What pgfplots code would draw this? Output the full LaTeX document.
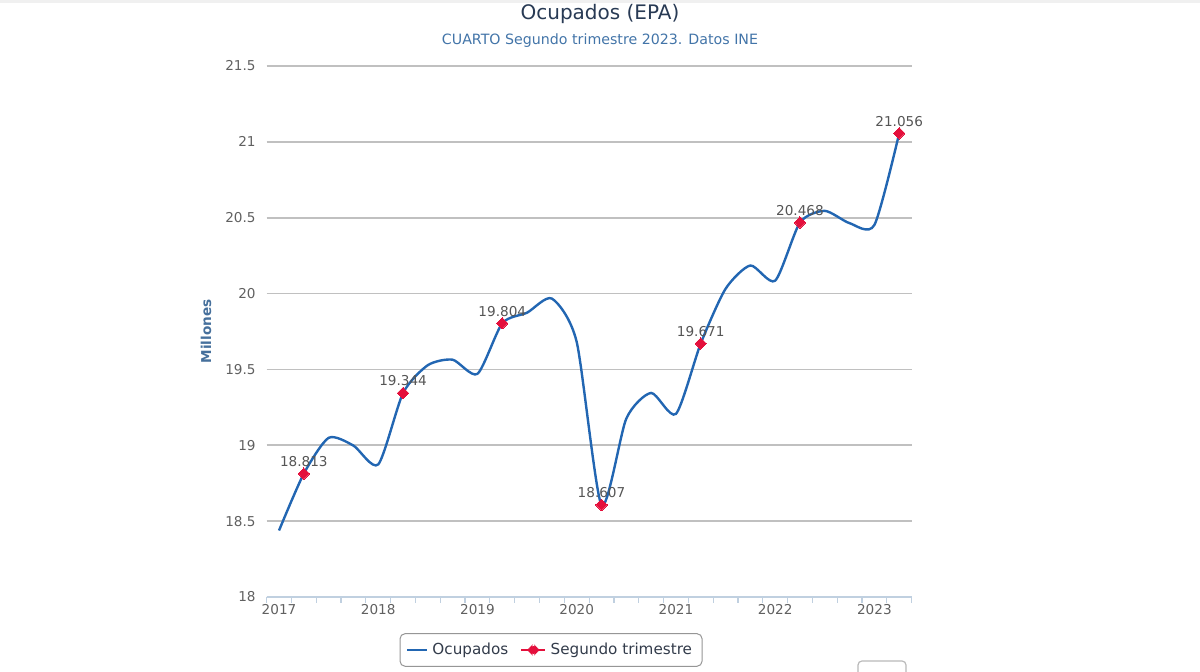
\documentclass[border=0pt]{standalone}
\usepackage{fontspec}
\setmainfont{DejaVu Sans}
\usepackage{pgfplots}
\pgfplotsset{compat=1.18}
\usepackage{pgfplotstable}
\definecolor{linecol}{RGB}{34,102,178}
\definecolor{markcol}{RGB}{228,16,60}
\definecolor{gridcol}{RGB}{192,192,192}
\definecolor{axiscol}{RGB}{192,208,224}
\definecolor{tickcol}{RGB}{96,96,96}
\definecolor{titlecol}{RGB}{40,58,84}
\definecolor{subcol}{RGB}{66,116,168}
\definecolor{ylabcol}{RGB}{70,112,156}
\definecolor{legcol}{RGB}{51,60,75}
\definecolor{legborder}{RGB}{150,150,150}
\definecolor{dlabcol}{RGB}{85,85,85}

\pgfplotstableread{
x y
0 18.438
1 18.813
2 19.049
3 18.998
4 18.874
5 19.344
6 19.528
7 19.564
8 19.471
9 19.804
10 19.874
11 19.967
12 19.681
13 18.607
14 19.176
15 19.345
16 19.207
17 19.671
18 20.031
19 20.185
20 20.085
21 20.468
22 20.545
23 20.464
24 20.452
25 21.056
}\ocupados

\pgfplotstableread{
x y label
1 18.813 18.813
5 19.344 19.344
9 19.804 19.804
13 18.607 18.607
17 19.671 19.671
21 20.468 20.468
25 21.056 21.056
}\segundo

\begin{document}
\begin{tikzpicture}[x=1pt,y=1pt]
\useasboundingbox (0,0) rectangle (600,336);
\fill[gray!12] (0,334.6) rectangle (600,336);
\node[font=\fontsize{10}{12}\selectfont, text=titlecol] at (300,329) {Ocupados (EPA)};
\node[font=\fontsize{7.1}{9}\selectfont, text=subcol] at (300,315.5) {CUARTO Segundo trimestre 2023. Datos INE};
\begin{axis}[
  at={(133.3pt,37.5pt)}, anchor=south west,
  scale only axis, width=322.5pt, height=265.5pt,
  xmin=-0.5, xmax=25.5, ymin=18, ymax=21.5,
  axis x line*=bottom, axis y line*=left,
  x axis line style={draw=axiscol, line width=0.6pt},
  y axis line style={draw=none},
  xtick={0,4,8,12,16,20,24},
  xticklabels={2017,2018,2019,2020,2021,2022,2023},
  minor xtick={-0.5,0.5,...,25.5},
  ytick={18,18.5,19,19.5,20,20.5,21,21.5},
  yticklabels={18,18.5,19,19.5,20,20.5,21,21.5},
  tick align=outside,
  major tick length=0pt,
  minor tick length=3pt,
  minor tick style={draw=axiscol, line width=0.6pt},
  ymajorgrids,
  major grid style={draw=gridcol, line width=0.85pt},
  xticklabel style={font=\fontsize{6.8}{8}\selectfont, text=tickcol, inner sep=0pt, yshift=-3.5pt},
  yticklabel style={font=\fontsize{6.8}{8}\selectfont, text=tickcol, inner sep=0pt, xshift=-5.3pt},
  ylabel={Millones},
  ylabel style={font=\fontsize{6.8}{8}\selectfont\bfseries, text=ylabcol, at={(axis description cs:-0.094,0.5)}, anchor=center},
  legend columns=2,
  legend cell align=left,
  legend style={at={(0.441,-0.0998)}, anchor=center, draw=legborder, rounded corners=2.5pt, line width=0.5pt,
    font=\fontsize{7.6}{9}\selectfont, text=legcol, inner xsep=3pt, inner ysep=2.5pt,
    /tikz/every even column/.append style={column sep=4pt}},
]
\addplot[linecol, line width=1.2pt, smooth, tension=0.42, no markers,
  legend image code/.code={\draw[linecol, line width=1.2pt] (0pt,0pt) -- (10pt,0pt);}]
  table[x=x,y=y]{\ocupados};
\addlegendentry{Ocupados}
\addplot[only marks, mark=square*, mark size=2pt,
  mark options={rotate=45, fill=markcol, draw=markcol, line width=0pt},
  nodes near coords, point meta=explicit symbolic,
  nodes near coords style={font=\fontsize{6.8}{8}\selectfont, text=dlabcol, anchor=south, inner sep=0pt, yshift=3.5pt},
  legend image code/.code={\draw[markcol, line width=1.2pt] (0pt,0pt) -- (12pt,0pt);
     \fill[markcol] (6pt,2.75pt) -- (8.75pt,0pt) -- (6pt,-2.75pt) -- (3.25pt,0pt) -- cycle;}]
  table[x=x,y=y,meta=label]{\segundo};
\addlegendentry{Segundo trimestre}
\end{axis}
\draw[gray!55, rounded corners=2pt, line width=0.6pt] (429,5.5) rectangle (453,-6);
\end{tikzpicture}
\end{document}
